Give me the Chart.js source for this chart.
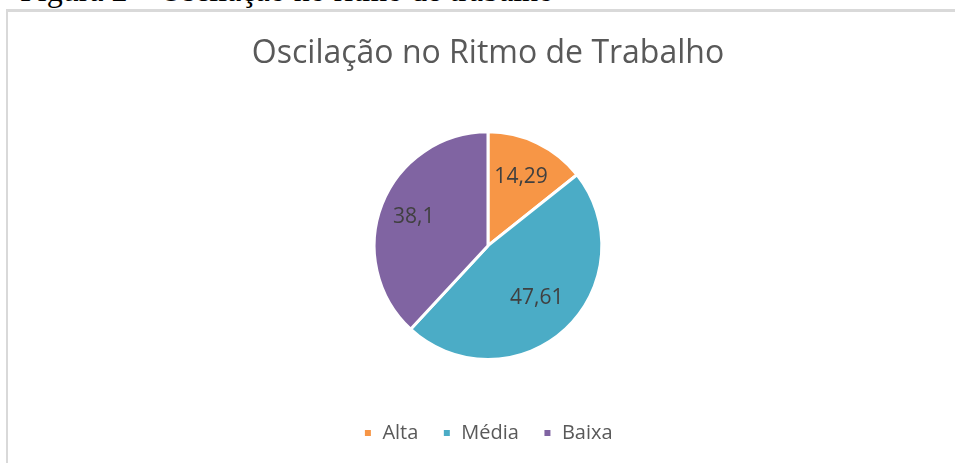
<!DOCTYPE html>
<html>
<head>
<meta charset="utf-8">
<title>Oscilação no Ritmo de Trabalho</title>
<script src="https://cdn.jsdelivr.net/npm/chart.js@4/dist/chart.umd.min.js"></script>
<style>
    body { margin: 0; background: #fff; overflow: hidden; }
    #caption {
        position: absolute; left: 20px; top: -26px;
        font: 32px 'Liberation Serif', 'Times New Roman', serif;
        line-height: 32px; color: #000; white-space: nowrap;
    }
    #frame {
        position: absolute; left: 6px; top: 9px; width: 960px; height: 470px;
        border-left: 2px solid #d9d9d9; border-top: 3px solid #d9d9d9;
    }
    #wrap { position: absolute; left: 0; top: 0; width: 955px; height: 463px; }
</style>
</head>
<body>
<div id="caption">Figura 2 – Oscilação no ritmo de trabalho</div>
<div id="frame"></div>
<div id="wrap"><canvas id="pieChart"></canvas></div>
<script>
const labels = ['Alta', 'Média', 'Baixa'];
const values = [14.29, 47.61, 38.1];
const colors = ['#F79646', '#4BACC6', '#8064A2'];
// how far out along each slice the number sits (fraction of radius)
const labelDepth = [0.67, 0.63, 0.70];

// write the value of each slice inside it, with a decimal comma
const sliceLabels = {
    id: 'sliceLabels',
    afterDatasetsDraw(chart) {
        const ctx = chart.ctx;
        const meta = chart.getDatasetMeta(0);
        ctx.save();
        ctx.font = '21px "Open Sans"';
        ctx.fillStyle = '#404040';
        ctx.textAlign = 'center';
        ctx.textBaseline = 'middle';
        meta.data.forEach(function (arc, i) {
            const p = arc.getProps(['x', 'y', 'startAngle', 'endAngle', 'outerRadius'], true);
            const mid = (p.startAngle + p.endAngle) / 2;
            const r = p.outerRadius * labelDepth[i];
            const text = String(values[i]).replace('.', ',');
            ctx.fillText(text, p.x + Math.cos(mid) * r, p.y + Math.sin(mid) * r);
        });
        ctx.restore();
    }
};

const data = {
    labels: labels,
    datasets: [{
        data: values,
        backgroundColor: colors,
        borderColor: '#ffffff',
        borderWidth: 3,
        radius: '75%'
    }]
};

const config = {
    type: 'pie',
    data,
    options: {
        responsive: false,
        animation: false,
        layout: { padding: { left: 21, right: 0, top: 35, bottom: 10 } },
        plugins: {
            title: {
                display: true,
                text: 'Oscilação no Ritmo de Trabalho',
                color: '#595959',
                font: { family: 'Open Sans', size: 32, weight: 'normal' },
                padding: { top: 0, bottom: 19 }
            },
            legend: {
                position: 'bottom',
                labels: {
                    color: '#595959',
                    font: { family: 'Open Sans', size: 20 },
                    boxWidth: 9,
                    boxHeight: 9,
                    padding: 24
                }
            },
            tooltip: { enabled: false }
        }
    },
    plugins: [sliceLabels]
};

const canvas = document.getElementById('pieChart');
canvas.width = 955;
canvas.height = 463;
var myChart = new Chart(canvas, config);
</script>
</body>
</html>
